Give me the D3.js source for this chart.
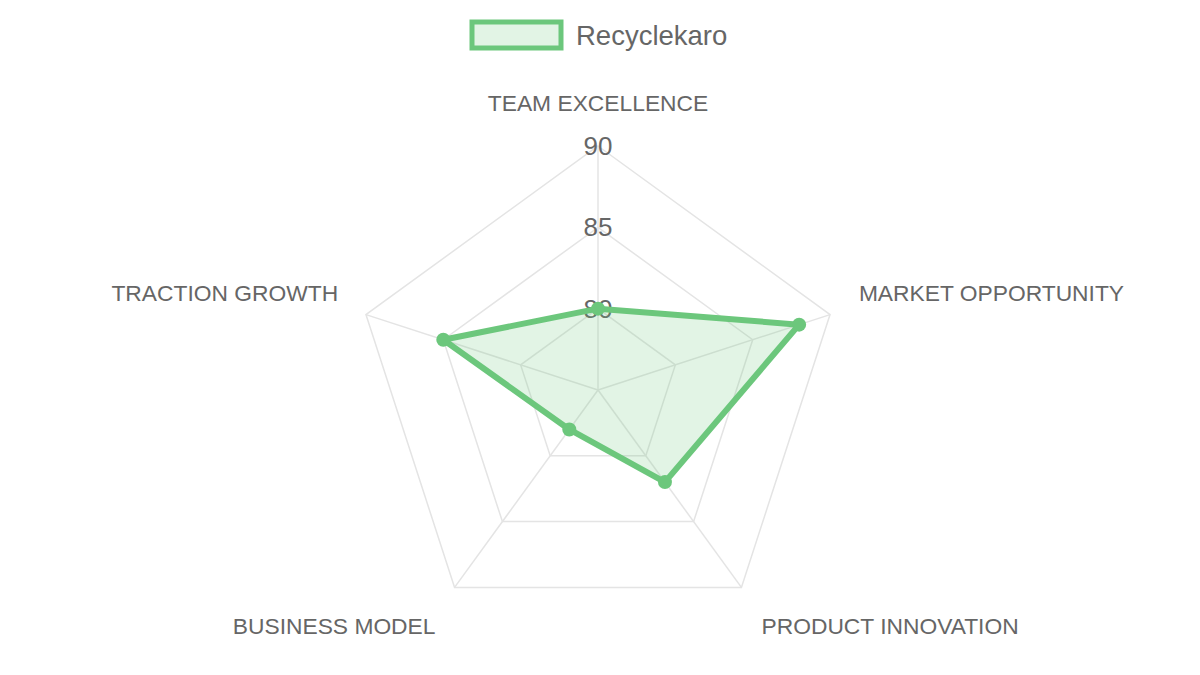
<!DOCTYPE html>
<html>
<head>
<meta charset="utf-8">
<script src="https://cdn.jsdelivr.net/npm/d3@7"></script>
<style>
  body { margin: 0; background: #fff; }
  svg text { font-family: "Liberation Sans", Arial, sans-serif; fill: #666; }
</style>
</head>
<body>
<div id="chart"></div>
<script>
// chart data
var categories = ["TEAM EXCELLENCE", "MARKET OPPORTUNITY", "PRODUCT INNOVATION", "BUSINESS MODEL", "TRACTION GROWTH"];
var seriesName = "Recyclekaro";
var seriesValues = [80, 88, 82, 78, 85];
var tickValues = [80, 85, 90];
var scaleMin = 75, scaleMax = 90;

var svgWidth = 1200, svgHeight = 675;
var cx = 598, cy = 390, outerR = 244;
var green = "rgb(108,199,124)";

var svg = d3.select("#chart").append("svg")
    .attr("width", svgWidth)
    .attr("height", svgHeight);

var rScale = d3.scaleLinear().domain([scaleMin, scaleMax]).range([0, outerR]);
var angle = d3.scaleLinear().domain([0, categories.length]).range([0, 2 * Math.PI]);

function pt(i, r) {
    var a = angle(i) - Math.PI / 2;
    return [cx + r * Math.cos(a), cy + r * Math.sin(a)];
}

var g = svg.append("g");

// grid rings
tickValues.forEach(function(t) {
    var pts = categories.map(function(c, i) { return pt(i, rScale(t)); });
    g.append("polygon")
        .attr("points", pts.map(function(p) { return p.join(","); }).join(" "))
        .attr("fill", "none")
        .attr("stroke", "#e4e4e4")
        .attr("stroke-width", 1.5);
});

// angle lines
categories.forEach(function(c, i) {
    var p = pt(i, outerR);
    g.append("line")
        .attr("x1", cx).attr("y1", cy)
        .attr("x2", p[0]).attr("y2", p[1])
        .attr("stroke", "#e4e4e4")
        .attr("stroke-width", 1.5);
});

// tick labels
g.selectAll(".tick").data(tickValues).enter().append("text")
    .attr("x", cx)
    .attr("y", function(d) { return cy - rScale(d) + 9; })
    .attr("text-anchor", "middle")
    .attr("font-size", "26px")
    .text(function(d) { return d; });

// point labels
var labelR = outerR + 24;
g.selectAll(".plabel").data(categories).enter().append("text")
    .attr("font-size", "22.8px")
    .attr("x", function(d, i) {
        var p = pt(i, labelR);
        var dx = p[0] - cx;
        return Math.abs(dx) < 1 ? p[0] : p[0] + (dx > 0 ? 6 : -5);
    })
    .attr("y", function(d, i) {
        var p = pt(i, labelR);
        var dy = p[1] - cy;
        if (i === 0) return p[1] - 11;
        return dy < 0 ? p[1] - 6 : p[1] + 27;
    })
    .attr("text-anchor", function(d, i) {
        var dx = pt(i, labelR)[0] - cx;
        return Math.abs(dx) < 1 ? "middle" : (dx > 0 ? "start" : "end");
    })
    .text(function(d) { return d; });

// data area
var line = d3.lineRadial()
    .angle(function(d, i) { return angle(i); })
    .radius(function(d) { return rScale(d); })
    .curve(d3.curveLinearClosed);

g.append("path")
    .datum(seriesValues)
    .attr("transform", "translate(" + cx + "," + cy + ")")
    .attr("d", line)
    .attr("fill", green)
    .attr("fill-opacity", 0.2)
    .attr("stroke", green)
    .attr("stroke-width", 6)
    .attr("stroke-linejoin", "round");

g.selectAll(".pt").data(seriesValues).enter().append("circle")
    .attr("cx", function(d, i) { return pt(i, rScale(d))[0]; })
    .attr("cy", function(d, i) { return pt(i, rScale(d))[1]; })
    .attr("r", 7)
    .attr("fill", green);

// legend
var legend = svg.append("g");
legend.append("rect")
    .attr("x", 472).attr("y", 22)
    .attr("width", 89).attr("height", 26)
    .attr("fill", green).attr("fill-opacity", 0.2)
    .attr("stroke", green).attr("stroke-width", 5);
legend.append("text")
    .attr("x", 576).attr("y", 45)
    .attr("font-size", "27.5px")
    .text(seriesName);
</script>
</body>
</html>
